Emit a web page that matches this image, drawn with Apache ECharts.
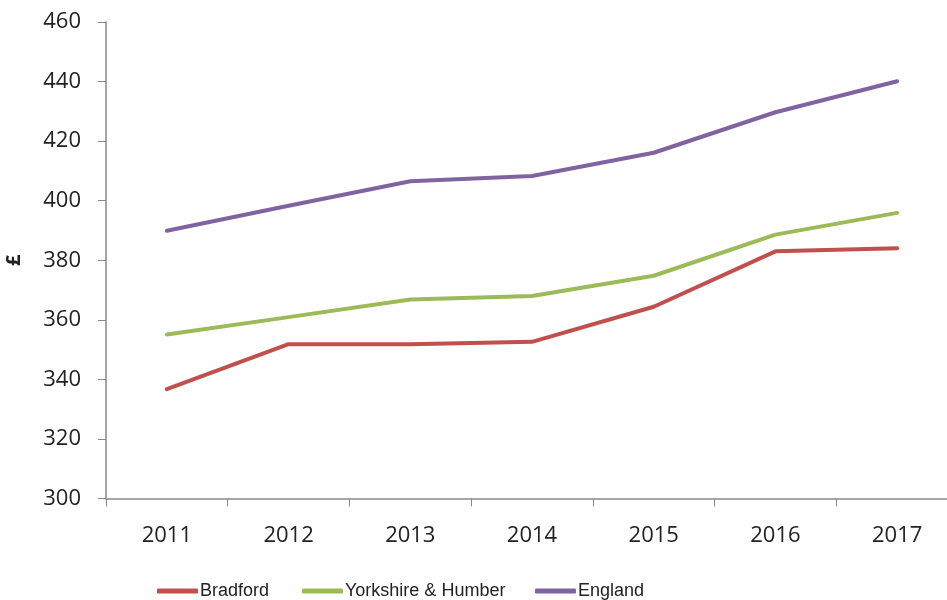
<!DOCTYPE html>
<html>
<head>
<meta charset="utf-8">
<script src="https://cdn.jsdelivr.net/npm/echarts@6/dist/echarts.min.js"></script>
<style>html,body{margin:0;padding:0;background:#fff}#c{width:947px;height:600px}</style>
</head>
<body>
<div id="c"></div>
<script>
const years = ['2011','2012','2013','2014','2015','2016','2017'];
const seriesNames = ['Bradford', 'Yorkshire & Humber', 'England'];
const bradford = [336.7, 351.8, 351.8, 352.6, 364.4, 383.0, 384.0];
const yorkshire = [355.1, 360.9, 366.8, 368.0, 374.8, 388.6, 395.9];
const england = [389.9, 398.3, 406.5, 408.3, 416.1, 429.7, 440.1];
const yTicks = {min: 300, max: 460, interval: 20};

const font = 'Open Sans';
const legendFont = '"Liberation Sans"';
const colors = ['#C0504D', '#9BBB59', '#8064A2'];
const legendLeft = [152, 297, 530];
const chart = echarts.init(document.getElementById('c'));
function mk(name, data, color) {
  return {name, type: 'line', data, symbol: 'none', smooth: false,
    lineStyle: {width: 4, color, cap: 'round', join: 'round'}, itemStyle: {color}};
}
chart.setOption({
  animation: false,
  grid: {left: 106, top: 22, width: 852, height: 476.5, outerBoundsMode: 'none', containLabel: false},
  legend: seriesNames.map((n, i) => ({data: [n], top: 577, left: legendLeft[i], icon: 'roundRect',
    itemWidth: 41, itemHeight: 5, itemGap: 0,
    textStyle: {fontFamily: legendFont, fontSize: 18, color: '#222', padding: [0,0,0,-3]}})),
  xAxis: {type: 'category', data: years, boundaryGap: true,
    axisLine: {lineStyle: {color: '#888', width: 1.5}},
    axisTick: {show: true, length: 8, lineStyle: {color: '#888'}},
    axisLabel: {fontFamily: font, fontSize: 22, color: '#222', margin: 26}},
  yAxis: {type: 'value', min: yTicks.min, max: yTicks.max, interval: yTicks.interval,
    name: '£', nameLocation: 'middle', nameRotate: 90, nameGap: 82,
    nameTextStyle: {fontFamily: font, fontSize: 20, fontWeight: 'bold', color: '#222'},
    axisLine: {show: true, lineStyle: {color: '#888', width: 1.5}},
    axisTick: {show: true, length: 8, lineStyle: {color: '#888'}},
    splitLine: {show: false},
    axisLabel: {fontFamily: font, fontSize: 22, color: '#222', margin: 25}},
  series: [mk(seriesNames[0], bradford, colors[0]), mk(seriesNames[1], yorkshire, colors[1]), mk(seriesNames[2], england, colors[2])]
});
</script>
</body>
</html>
